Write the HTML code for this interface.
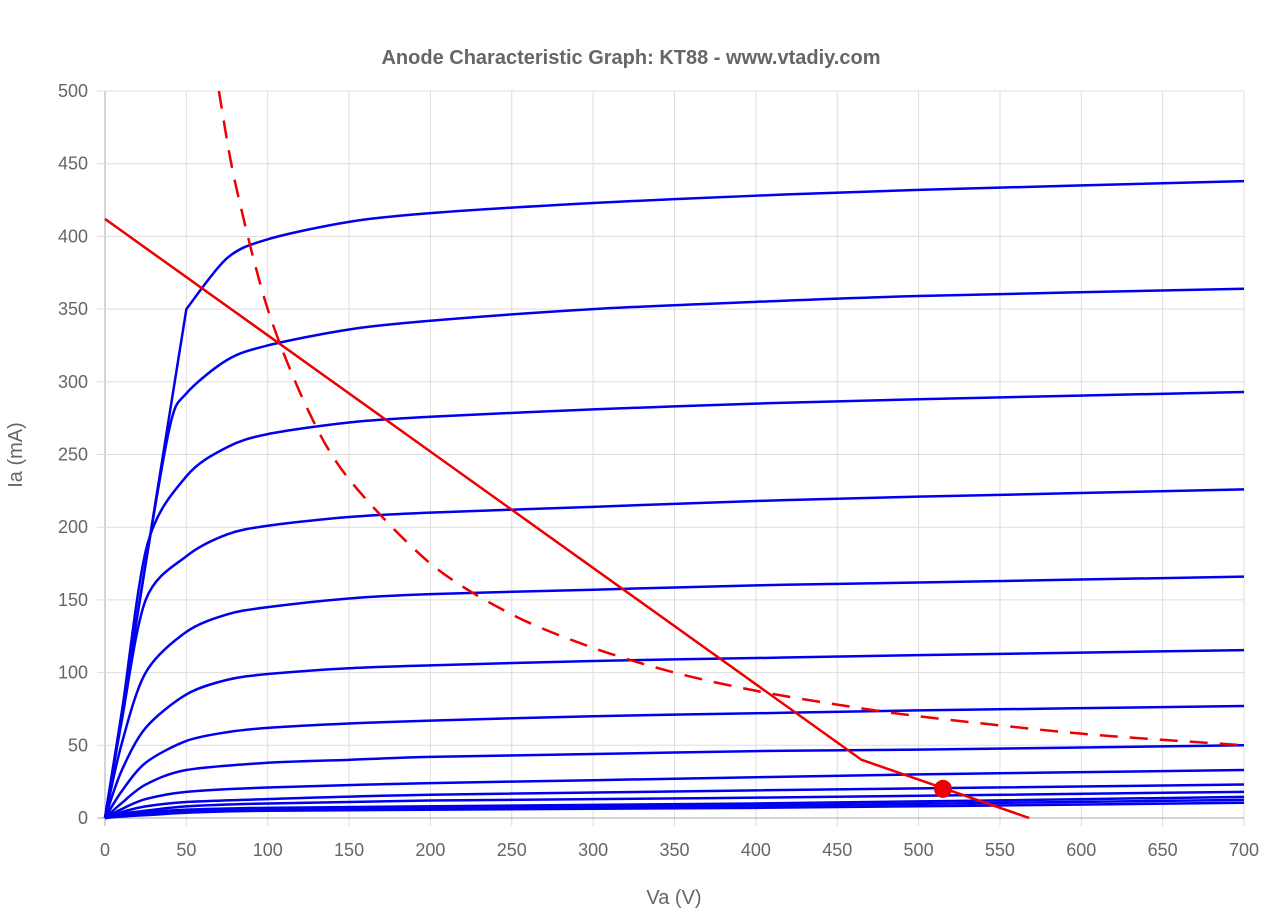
<!DOCTYPE html>
<html><head><meta charset="utf-8"><style>
body{margin:0;background:#fff;font-family:"Liberation Sans",sans-serif}
svg text{font-family:"Liberation Sans",sans-serif;fill:#666}
</style></head><body>
<svg id="chart" width="1280" height="912">
<text x="631" y="64" text-anchor="middle" font-size="20" font-weight="bold">Anode Characteristic Graph: KT88 - www.vtadiy.com</text>
<text x="674" y="904" text-anchor="middle" font-size="20">Va (V)</text>
<text transform="translate(22,455) rotate(-90)" text-anchor="middle" font-size="20">Ia (mA)</text>
<g id="grid"></g><g id="curves"></g><g id="overlay"></g>
</svg>
<script>
const xTicks=[0,50,100,150,200,250,300,350,400,450,500,550,600,650,700];
const yTicks=[0,50,100,150,200,250,300,350,400,450,500];
const curveVa=[
[0,25,50,75,100,150,200,300,400,500,700],
[0,25,40,50,75,100,150,200,300,400,500,700],
[0,10,26,50,75,100,150,200,300,400,500,700],
[0,10,25,50,75,100,150,200,300,400,500,700],
[0,10,25,50,75,100,150,200,300,400,500,700],
[0,10,25,50,75,100,150,200,300,400,500,700],
[0,10,25,50,75,100,150,200,300,400,500,700],
[0,10,25,50,100,150,200,300,400,500,700],
[0,10,25,50,100,200,300,400,500,700],
[0,10,25,50,100,200,400,700],
[0,10,25,50,100,200,400,700],
[0,25,100,400,700],
[0,25,100,400,700],
[0,25,100,400,700]];
const curveIa=[
[0,175,350,385,398,410,416,423,428,432,438],
[0,175,270,292,315,325,336,342,350,355,359,364],
[0,70,188,235,255,264,272,276,281,285,288,293],
[0,65,150,180,195,201,207,210,214,218,221,226],
[0,50,100,128,140,145,151,154,157,160,162,166],
[0,32,62,85,95,99,103,105,108,110,112,115.5],
[0,18,38,53,59,62,65,67,70,72,74,77],
[0,10,23,33,38,40,42,44,46,47,50],
[0,6,13,18,21,24,26,28,30,33],
[0,4,8,11,13,16,19,23],
[0,3,5,8,10,12,14,18],
[0,4,7,10,14.5],
[0,3,6,8.5,12.5],
[0,2,5,7,10.5]];
const loadVa=[0,465,568];
const loadIa=[412,40,0];
const powerVa=[70,80,100,125,150,200,250,300,350,400,450,500,600,700];
const powerIa=[500,437,350,280,233,175,140,117,100,87.5,78,70,58,50];
const opVa=[515], opIa=[20];
const X=v=>105+v*(1244-105)/700, Y=v=>818-v*(818-91)/500;
const NS='http://www.w3.org/2000/svg';
function mk(tag,parent,attrs){const e=document.createElementNS(NS,tag);for(const k in attrs)e.setAttribute(k,attrs[k]);document.getElementById(parent).appendChild(e);return e;}
xTicks.forEach(t=>{
 const l=mk('line','grid',{x1:X(t),x2:X(t),y1:91,y2:826,stroke:t===0?'#aaa':'#ddd','stroke-width':1});
 
 
 const tx=mk('text','grid',{x:X(t),y:856,'text-anchor':'middle','font-size':18});tx.textContent=t;
 
 
});
yTicks.forEach(t=>{
 const l=mk('line','grid',{x1:97,x2:1244,y1:Y(t),y2:Y(t),stroke:t===0?'#aaa':'#ddd','stroke-width':1});
 
 
 const tx=mk('text','grid',{x:88,y:Y(t)+6,'text-anchor':'end','font-size':18});tx.textContent=t;
 
 
});
function smooth(xs,ys){
 const p=xs.map((v,i)=>[X(v),Y(ys[i])]);let d='M'+p[0][0]+','+p[0][1];
 for(let i=0;i<p.length-1;i++){const p0=p[Math.max(0,i-1)],p1=p[i],p2=p[i+1],p3=p[Math.min(p.length-1,i+2)];
  const t=0.15;d+=` C${p1[0]+(p2[0]-p0[0])*t},${p1[1]+(p2[1]-p0[1])*t} ${p2[0]-(p3[0]-p1[0])*t},${p2[1]-(p3[1]-p1[1])*t} ${p2[0]},${p2[1]}`;}
 return d;}
curveVa.forEach((xs,i)=>{
 const d=(i===0)?('M'+xs.slice(0,3).map((v,j)=>X(v)+','+Y(curveIa[i][j])).join(' L')+smooth(xs.slice(2),curveIa[i].slice(2)).replace(/^M[^ C]+/,'')):smooth(xs,curveIa[i]);
 const pth=mk('path','curves',{d,fill:'none',stroke:'#0000ee','stroke-width':2.5});
 
 
});
const ll=mk('polyline','overlay',{points:loadVa.map((v,i)=>X(v)+','+Y(loadIa[i])).join(' '),fill:'none',stroke:'#ee0000','stroke-width':2.5});


const pc=mk('path','overlay',{d:smooth(powerVa,powerIa),fill:'none',stroke:'#ee0000','stroke-width':2.5,'stroke-dasharray':'18,12'});


const op=mk('circle','overlay',{cx:X(opVa[0]),cy:Y(opIa[0]),r:9,fill:'#ee0000'});


</script>
</body></html>
